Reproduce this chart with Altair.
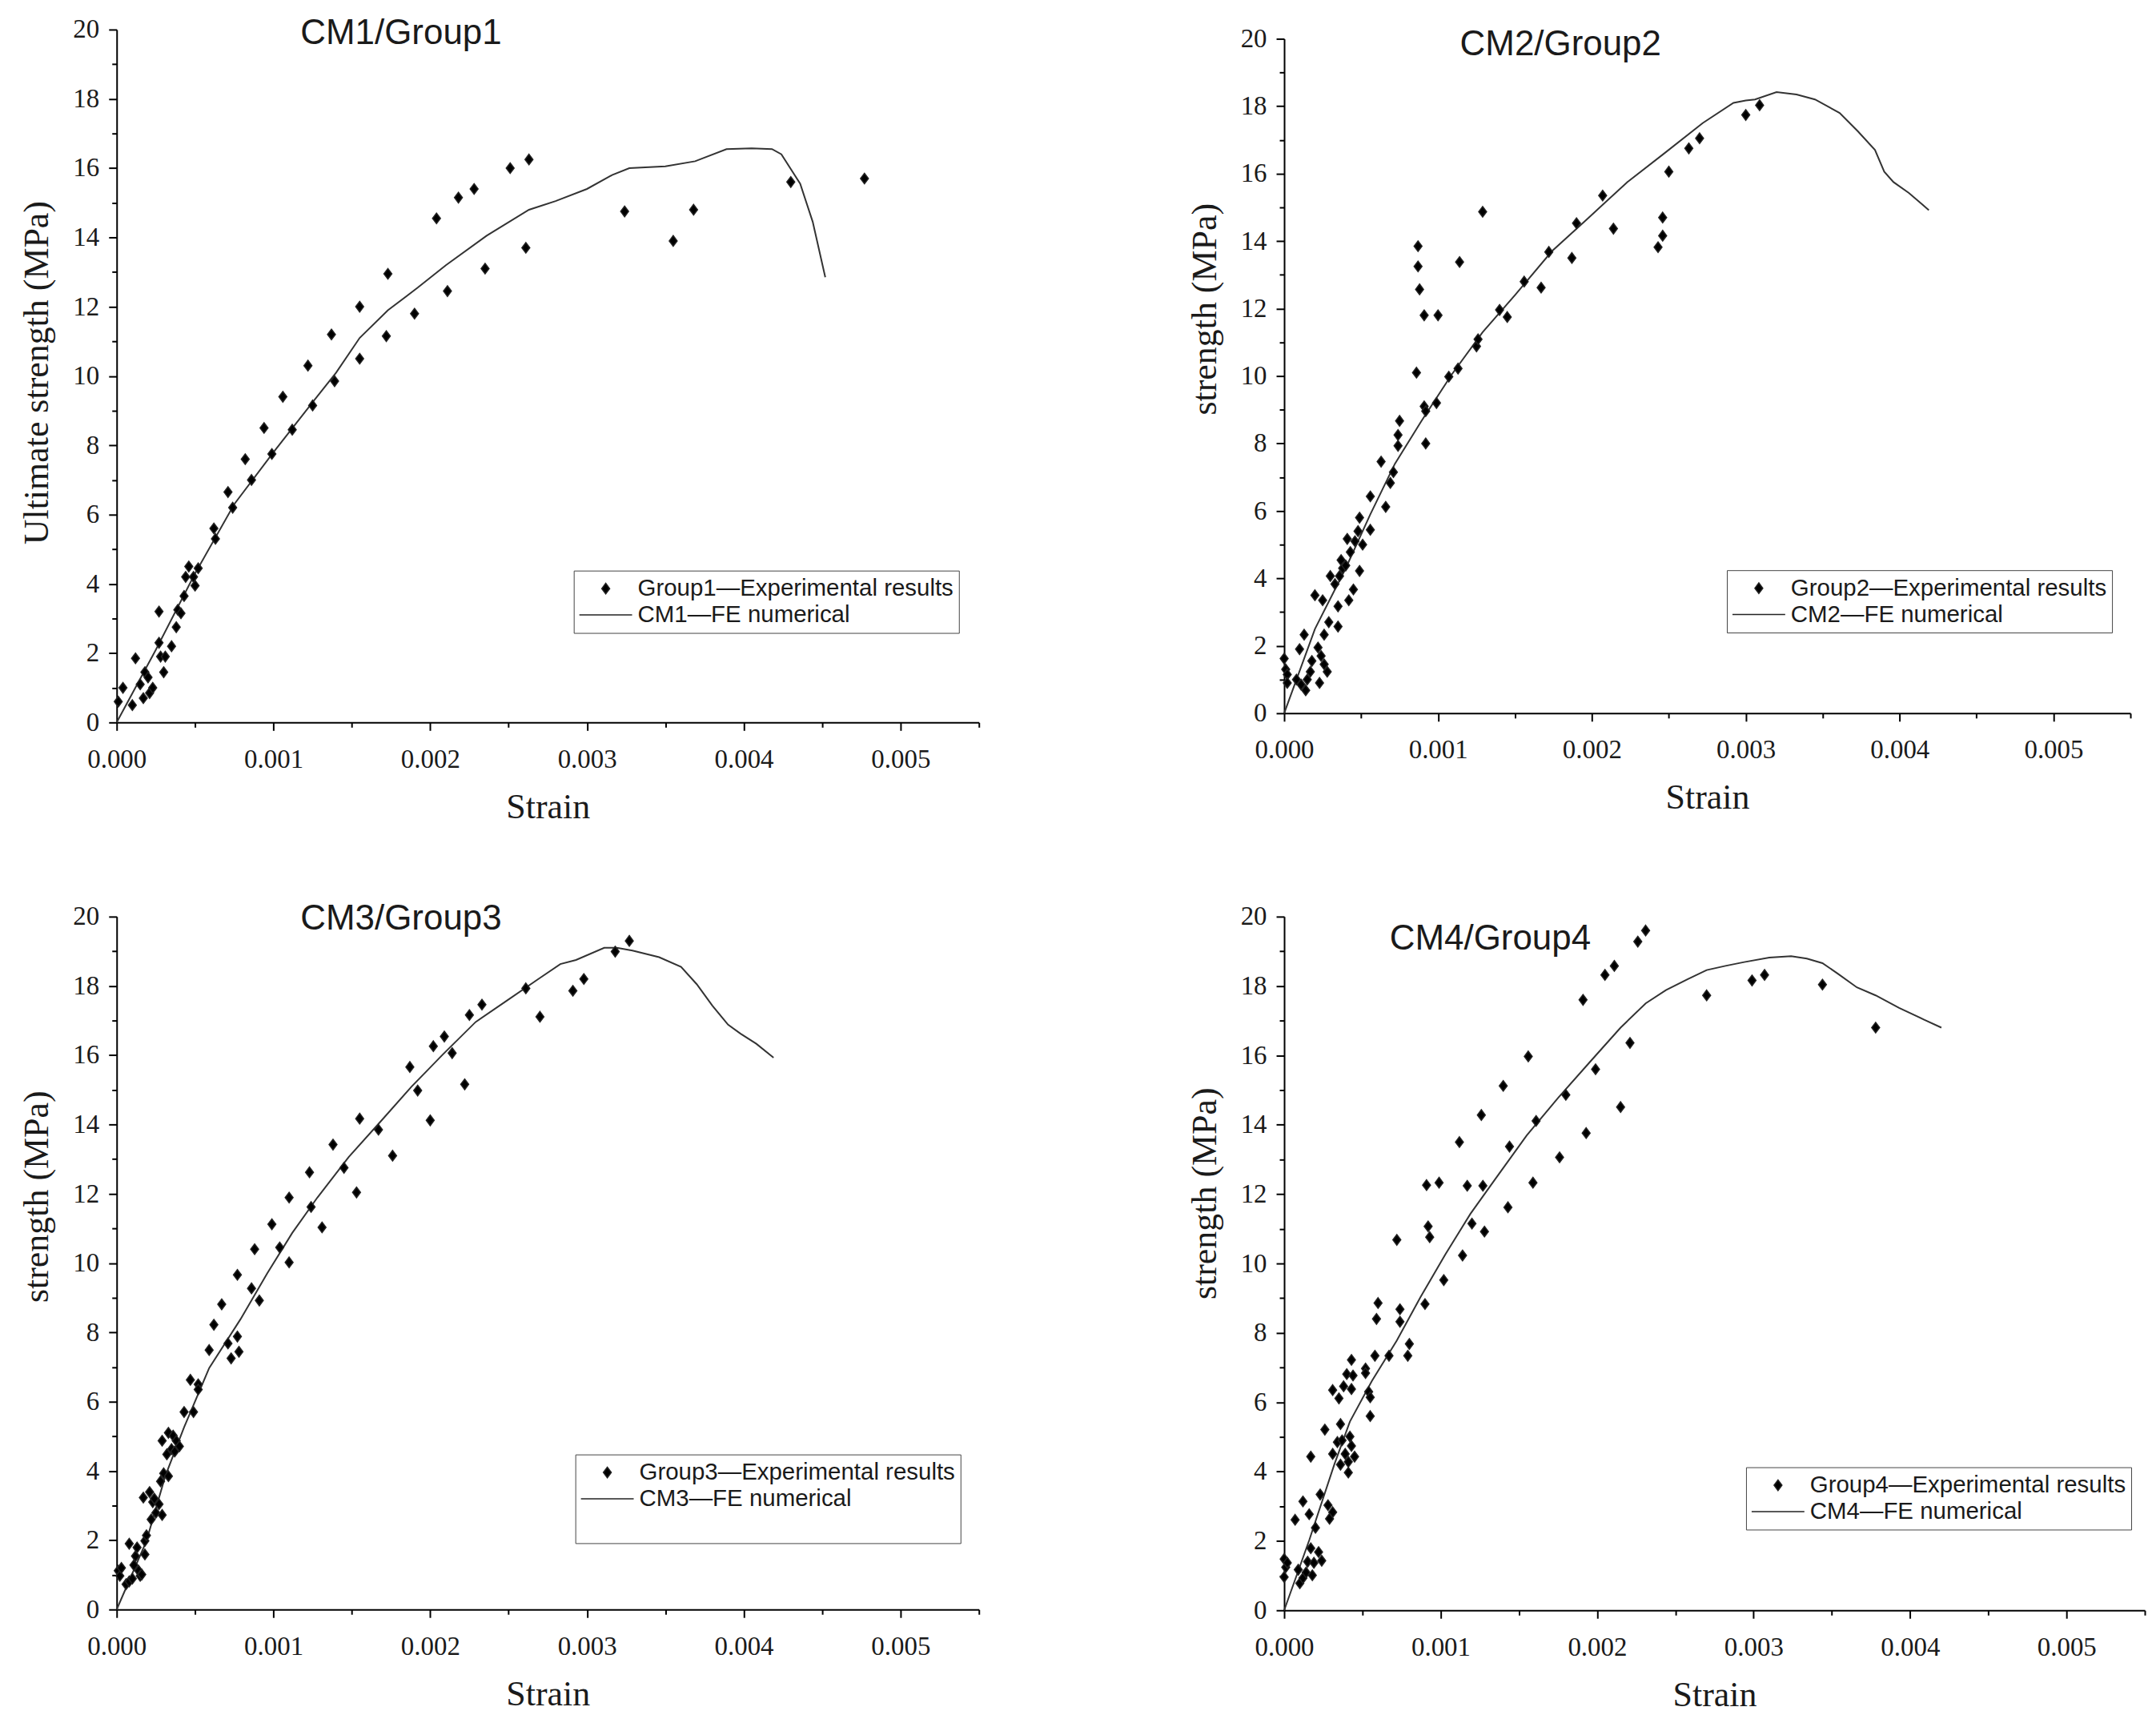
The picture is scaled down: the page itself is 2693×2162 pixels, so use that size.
import altair as alt
import pandas as pd

# ---- Panel 1: CM1 / Group1 ----
p1_exp_strain = [0.00004, 0.00001, 0.0001, 0.00012, 0.00015, 0.00017, 0.00018, 0.0002, 0.00021, 0.00023,
                 0.00027, 0.00027, 0.00028, 0.0003, 0.00031, 0.00035, 0.00038, 0.00039, 0.00041, 0.00043,
                 0.00044, 0.00046, 0.0005, 0.00049, 0.00052, 0.00062, 0.00063, 0.00071, 0.00074, 0.00082,
                 0.00086, 0.00094, 0.00099, 0.00106, 0.00112, 0.00122, 0.00125, 0.00137, 0.00139, 0.00155,
                 0.00155, 0.00173, 0.00172, 0.0019, 0.00204, 0.00211, 0.00218, 0.00228, 0.00235, 0.00251,
                 0.00263, 0.00261, 0.00324, 0.00355, 0.00368, 0.0043, 0.00477]
p1_exp_stress = [1.0, 0.6, 0.5, 1.85, 1.1, 0.7, 1.45, 1.3, 0.85, 1.0,
                 2.3, 3.2, 1.9, 1.45, 1.9, 2.2, 2.75, 3.25, 3.15, 3.65,
                 4.2, 4.5, 3.95, 4.2, 4.45, 5.6, 5.3, 6.65, 6.2, 7.6,
                 7.0, 8.5, 7.75, 9.4, 8.45, 10.3, 9.15, 11.2, 9.85, 12.0,
                 10.5, 12.95, 11.15, 11.8, 14.55, 12.45, 15.15, 15.4, 13.1, 16.0,
                 16.25, 13.7, 14.75, 13.9, 14.8, 15.6, 15.7]
p1_fe_strain = [0, 0.00025, 0.0005, 0.00075, 0.001, 0.00126, 0.0014, 0.00155, 0.00173, 0.00192,
                0.0021, 0.00236, 0.00263, 0.0028, 0.003, 0.00316, 0.00327, 0.0035, 0.00369, 0.00389,
                0.00405, 0.00418, 0.00424, 0.00436, 0.00444, 0.00452]
p1_fe_stress = [0, 2.1, 4.3, 6.3, 7.8, 9.3, 10.1, 11.1, 11.9, 12.55,
                13.2, 14.05, 14.8, 15.05, 15.4, 15.8, 16.0, 16.05, 16.2, 16.55,
                16.57, 16.55, 16.4, 15.55, 14.45, 12.85]

# ---- Panel 2: CM2 / Group2 ----
p2_exp_strain = [0.0, 0.00001, 0.00002, 0.00002, 0.00008, 0.0001, 0.00013, 0.00011, 0.00014, 0.00015,
                 0.00017, 0.00018, 0.0002, 0.00022, 0.00023, 0.00024, 0.00025, 0.00026, 0.00026, 0.00028,
                 0.0003, 0.00029, 0.00033, 0.00035, 0.00035, 0.00036, 0.00037, 0.00038, 0.0004, 0.00041,
                 0.00042, 0.00043, 0.00045, 0.00046, 0.00048, 0.00049, 0.00049, 0.00051, 0.00056, 0.00056,
                 0.00066, 0.00063, 0.00069, 0.00071, 0.00074, 0.00074, 0.00075, 0.00086, 0.00087, 0.00087,
                 0.00088, 0.00091, 0.00091, 0.00092, 0.00092, 0.00099, 0.001, 0.00107, 0.00113, 0.00114,
                 0.00125, 0.00126, 0.00129, 0.0014, 0.00145, 0.00156, 0.00167, 0.00172, 0.00187, 0.0019,
                 0.00207, 0.00214, 0.00243, 0.00246, 0.00246, 0.0025, 0.00263, 0.0027, 0.003, 0.00309]
p2_exp_stress = [1.62, 1.3, 1.15, 0.9, 1.0, 1.9, 2.33, 0.85, 0.68, 1.0,
                 1.23, 1.55, 3.5, 1.95, 0.9, 1.7, 3.35, 2.33, 1.45, 1.23,
                 4.07, 2.7, 3.83, 3.17, 2.57, 4.07, 4.54, 4.3, 4.38, 5.17,
                 3.35, 4.78, 3.67, 5.1, 5.4, 4.22, 5.8, 5.0, 5.44, 6.43,
                 6.12, 7.46, 6.83, 7.15, 7.93, 8.25, 8.67, 10.1, 13.85, 13.25,
                 12.57, 11.8, 9.1, 8.96, 8.0, 9.2, 11.8, 9.98, 10.22, 13.38,
                 10.88, 11.09, 14.87, 11.96, 11.75, 12.8, 12.62, 13.68, 13.5, 14.53,
                 15.35, 14.37, 13.82, 14.16, 14.7, 16.06, 16.75, 17.05, 17.74, 18.03]
p2_fe_strain = [0, 0.0002, 0.0004, 0.00056, 0.00072, 0.00089, 0.00109, 0.00129, 0.0015, 0.00174,
                0.00198, 0.00223, 0.00247, 0.00272, 0.00292, 0.003, 0.00306, 0.0032, 0.00333, 0.00345,
                0.00361, 0.00373, 0.00384, 0.0039, 0.00396, 0.00406, 0.00419]
p2_fe_stress = [0, 2.5, 4.3, 5.9, 7.4, 8.65, 10.05, 11.3, 12.4, 13.7,
                14.7, 15.75, 16.6, 17.5, 18.1, 18.17, 18.2, 18.42, 18.35, 18.2,
                17.8, 17.25, 16.7, 16.06, 15.75, 15.43, 14.92]

# ---- Panel 3: CM3 / Group3 ----
p3_exp_strain = [0.00001, 0.00002, 0.00003, 0.00006, 0.00008, 0.00008, 0.0001, 0.00011, 0.00012, 0.00013,
                 0.00014, 0.00015, 0.00016, 0.00017, 0.00018, 0.00018, 0.00019, 0.00021, 0.00023, 0.00024,
                 0.00022, 0.00025, 0.00027, 0.00028, 0.00029, 0.00029, 0.0003, 0.00032, 0.00033, 0.00033,
                 0.00035, 0.00036, 0.00037, 0.00038, 0.0004, 0.00043, 0.00047, 0.00049, 0.00052, 0.00052,
                 0.00059, 0.00062, 0.00067, 0.00071, 0.00073, 0.00077, 0.00077, 0.00078, 0.00086, 0.00088,
                 0.00091, 0.00099, 0.00104, 0.0011, 0.0011, 0.00123, 0.00124, 0.00131, 0.00138, 0.00145,
                 0.00153, 0.00155, 0.00167, 0.00176, 0.00187, 0.00192, 0.002, 0.00202, 0.00209, 0.00214,
                 0.00222, 0.00225, 0.00233, 0.00261, 0.0027, 0.00291, 0.00298, 0.00318, 0.00327]
p3_exp_stress = [1.12, 0.97, 1.2, 0.73, 1.9, 0.81, 0.89, 1.28, 1.54, 1.79,
                 1.12, 0.97, 1.01, 3.23, 1.98, 1.59, 2.14, 3.39, 3.1, 3.2,
                 2.6, 2.79, 3.04, 3.7, 2.73, 4.87, 3.93, 4.48, 5.1, 3.85,
                 4.63, 5.02, 4.56, 4.87, 4.71, 5.7, 6.63, 5.7, 6.5, 6.35,
                 7.49, 8.22, 8.81, 7.68, 7.25, 9.66, 7.88, 7.44, 9.27, 10.4,
                 8.92, 11.12, 10.45, 11.89, 10.02, 12.62, 11.62, 11.03, 13.42, 12.75,
                 12.04, 14.17, 13.85, 13.1, 15.66, 14.98, 14.12, 16.26, 16.54, 16.06,
                 15.16, 17.16, 17.46, 17.93, 17.11, 17.86, 18.2, 18.99, 19.3]
p3_fe_strain = [0, 0.00019, 0.00031, 0.00043, 0.00059, 0.00079, 0.00096, 0.00112, 0.00128, 0.00148,
                0.00168, 0.00188, 0.00208, 0.00229, 0.00249, 0.00269, 0.00283, 0.00293, 0.00311, 0.00319,
                0.00329, 0.00346, 0.0036, 0.0037, 0.0038, 0.0039, 0.00398, 0.00408, 0.00419]
p3_fe_stress = [0, 1.98, 3.85, 5.26, 6.97, 8.38, 9.7, 10.87, 11.89, 13.06,
                14.07, 15.09, 16.02, 16.96, 17.58, 18.2, 18.63, 18.75, 19.1, 19.1,
                19.02, 18.83, 18.55, 18.05, 17.43, 16.88, 16.62, 16.33, 15.93]

# ---- Panel 4: CM4 / Group4 ----
p4_exp_strain = [0.0, 0.00001, 0.00002, 0.0, 0.00007, 0.00009, 0.0001, 0.00012, 0.00012, 0.00014,
                 0.00015, 0.00016, 0.00017, 0.00017, 0.00018, 0.00019, 0.0002, 0.00022, 0.00023, 0.00024,
                 0.00026, 0.00028, 0.00029, 0.00031, 0.00031, 0.00031, 0.00034, 0.00035, 0.00036, 0.00036,
                 0.00037, 0.00038, 0.00039, 0.0004, 0.00041, 0.00041, 0.00042, 0.00043, 0.00043, 0.00044,
                 0.00045, 0.00043, 0.00052, 0.00052, 0.00054, 0.00055, 0.00055, 0.00058, 0.00059, 0.0006,
                 0.00067, 0.00072, 0.00074, 0.00074, 0.00079, 0.0008, 0.0009, 0.00091, 0.00092, 0.00093,
                 0.00099, 0.00102, 0.00112, 0.00114, 0.00117, 0.0012, 0.00126, 0.00127, 0.00128, 0.0014,
                 0.00143, 0.00144, 0.00156, 0.00159, 0.00161, 0.00176, 0.0018, 0.00191, 0.00193, 0.00199,
                 0.00205, 0.00211, 0.00215, 0.00221, 0.00226, 0.00231, 0.0027, 0.00299, 0.00307, 0.00344,
                 0.00378]
p4_exp_stress = [1.48, 1.24, 1.37, 0.96, 2.61, 1.17, 0.78, 3.14, 0.93, 1.09,
                 1.4, 2.77, 1.79, 4.43, 1.01, 1.37, 2.38, 1.68, 3.34, 1.43,
                 5.21, 3.03, 2.64, 6.35, 2.83, 4.51, 4.85, 6.11, 5.37, 4.2,
                 4.9, 6.46, 4.51, 6.81, 4.28, 3.97, 5.01, 7.22, 6.38, 6.77,
                 4.43, 4.74, 6.97, 6.84, 6.3, 6.14, 5.6, 7.34, 8.4, 8.86,
                 7.34, 10.68, 8.32, 8.68, 7.34, 7.68, 8.83, 12.26, 11.07, 10.76,
                 12.33, 9.52, 13.5, 10.23, 12.24, 11.15, 14.28, 12.24, 10.92, 15.12,
                 11.62, 13.37, 15.97, 12.33, 14.11, 13.06, 14.86, 17.6, 13.76, 15.6,
                 18.32, 18.58, 14.51, 16.36, 19.28, 19.6, 17.73, 18.16, 18.32, 18.04,
                 16.8]
p4_fe_strain = [0, 0.00016, 0.00032, 0.00042, 0.00056, 0.00072, 0.00087, 0.00103, 0.00119, 0.00135,
                0.00155, 0.00175, 0.00195, 0.00215, 0.00231, 0.00244, 0.00258, 0.0027, 0.00282, 0.00294,
                0.0031, 0.00324, 0.00334, 0.00344, 0.00354, 0.00366, 0.00378, 0.00393, 0.00409, 0.0042]
p4_fe_stress = [0, 2.02, 4.2, 5.44, 6.61, 7.78, 9.02, 10.26, 11.43, 12.44,
                13.69, 14.77, 15.79, 16.8, 17.5, 17.88, 18.2, 18.46, 18.58, 18.69,
                18.82, 18.86, 18.79, 18.66, 18.35, 17.96, 17.73, 17.37, 17.03, 16.8]

x_ticks = [i * 0.0005 for i in range(12)]
y_ticks = list(range(0, 21))

SERIF = 'Liberation Serif'
SANS = 'Liberation Sans'
INK = '#1a1a1a'
SYM = 4356  # legend/marker symbol area (line length 66px)
DIAMOND = 'M0,-0.2L0.15,0L0,0.2L-0.15,0Z'


def panel(n, exp_x, exp_y, fe_x, fe_y, y_title, title_y, head_dx, head_dy,
          leg_x, leg_y, w, h, blank_row=False):
    exp_label = f'Group{n}\u2014Experimental results'
    fe_label = f'CM{n}\u2014FE numerical'
    domain = [exp_label, fe_label]
    shapes = [DIAMOND, 'stroke']
    if blank_row:
        domain.append('\u00a0')
        shapes.append('M0,0')

    exp = pd.DataFrame({'strain': exp_x, 'stress': exp_y, 'series': exp_label})
    fe = pd.DataFrame({'strain': fe_x, 'stress': fe_y, 'i': range(len(fe_x))})

    x_axis = alt.Axis(
        values=x_ticks, title='Strain', grid=False, labelFlush=False,
        labelExpr="round(datum.value * 10000) % 10 == 0 ? format(datum.value, '.3f') : ''",
        tickSize={'condition': {'test': 'round(datum.value * 10000) % 10 == 0', 'value': 10}, 'value': 6},
        labelPadding=20, titlePadding=21,
    )
    y_axis = alt.Axis(
        values=y_ticks, title=y_title, grid=False, titleY=title_y, labelFlush=False,
        labelExpr="datum.value % 2 == 0 ? datum.label : ''",
        tickSize={'condition': {'test': 'datum.value % 2 == 0', 'value': 10}, 'value': 6},
        labelPadding=12, titlePadding=22,
    )
    x = alt.X('strain:Q', scale=alt.Scale(domain=[0, 0.0055], nice=False), axis=x_axis)
    y = alt.Y('stress:Q', scale=alt.Scale(domain=[0, 20], nice=False), axis=y_axis)

    fe_line = alt.Chart(fe).mark_line(color='#333333', strokeWidth=2).encode(x=x, y=y, order='i:Q')

    points = alt.Chart(exp).mark_point(
        filled=False, fill='black', color='#222222', strokeWidth=1.5, opacity=1, size=SYM
    ).encode(
        x=x, y=y,
        shape=alt.Shape('series:N', scale=alt.Scale(domain=domain, range=shapes),
                        legend=alt.Legend(
                            title=None, orient='none', legendX=leg_x, legendY=leg_y,
                            direction='vertical', strokeColor='#444444', fillColor='white',
                            padding=6, rowPadding=0, clipHeight=33,
                            labelFont=SANS, labelFontSize=29.5, labelColor=INK,
                            labelOffset=6, labelLimit=0,
                            symbolSize=SYM, symbolStrokeWidth=1.5,
                        ))
    )

    return alt.layer(fe_line, points).properties(
        width=w, height=h,
        title=alt.Title(f'CM{n}/Group{n}', anchor='start', frame='group', orient='top',
                        dx=head_dx, dy=head_dy, offset=0, baseline='bottom',
                        font=SANS, fontSize=44, fontWeight='normal', color=INK),
    )


c1 = panel(1, p1_exp_strain, p1_exp_stress, p1_fe_strain, p1_fe_stress,
           'Ultimate strength (MPa)', 429, 230, 87, 572, 677, 1079, 867)
c2 = panel(2, p2_exp_strain, p2_exp_stress, p2_fe_strain, p2_fe_stress,
           'strength (MPa)', 338, 220, 90, 554, 665, 1059, 844)
c3 = panel(3, p3_exp_strain, p3_exp_stress, p3_fe_strain, p3_fe_stress,
           'strength (MPa)', 350, 230, 85, 574, 673, 1079, 867, blank_row=True)
c4 = panel(4, p4_exp_strain, p4_exp_stress, p4_fe_strain, p4_fe_stress,
           'strength (MPa)', 346, 132, 110, 578, 689, 1077, 868)

chart = alt.concat(
    c1, c2, c3, c4, columns=2, spacing={'row': 243, 'column': 382},
    bounds='flush', center=True
).resolve_scale(
    shape='independent', x='independent', y='independent'
).resolve_legend(
    shape='independent'
).properties(
    padding={'left': 17, 'top': 10, 'right': 5, 'bottom': 5}
).configure(
    background='white'
).configure_view(
    stroke=None
).configure_axis(
    domainColor='black', domainWidth=2, tickColor='black', tickWidth=2,
    labelFont=SERIF, labelFontSize=33, labelColor=INK,
    titleFont=SERIF, titleFontSize=44, titleFontWeight='normal', titleColor=INK,
)

chart.save('out.html', embed_options={'renderer': 'svg', 'actions': False})
